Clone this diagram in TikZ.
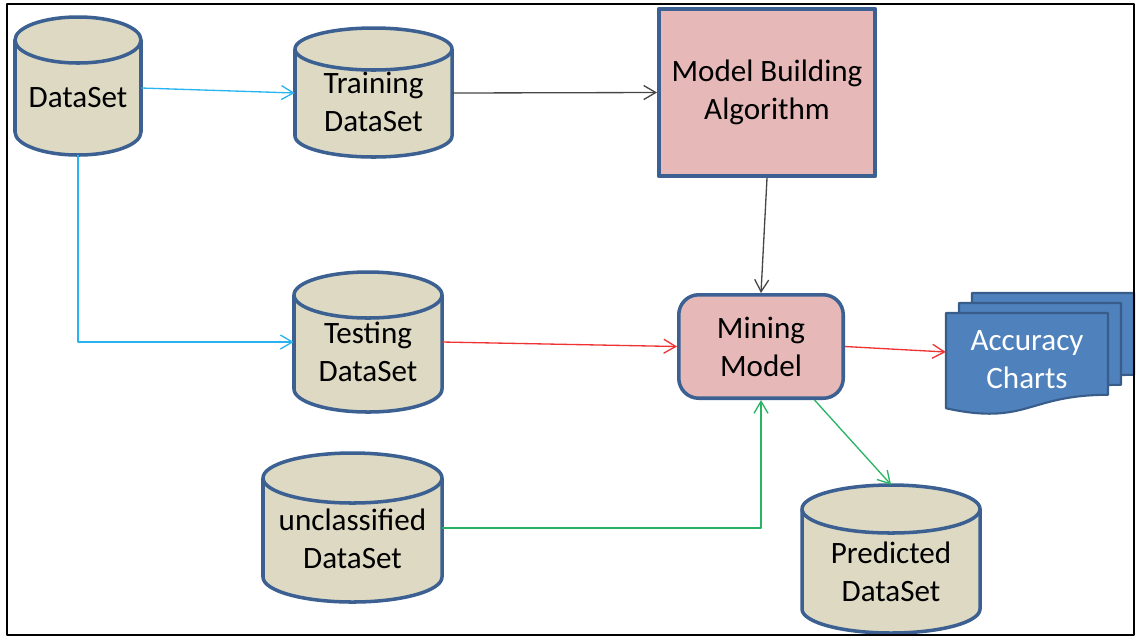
\documentclass[tikz,border=0pt]{standalone}
\usepackage{fontspec}
\setmainfont{Carlito}
\usetikzlibrary{arrows.meta}
\definecolor{dbfill}{RGB}{221,217,195}
\definecolor{edgeblue}{RGB}{59,96,145}
\definecolor{boxpink}{RGB}{230,185,184}
\definecolor{docblue}{RGB}{79,129,189}
\definecolor{docedge}{RGB}{56,93,138}
\definecolor{arrcyan}{RGB}{40,180,240}
\definecolor{arrred}{RGB}{240,50,50}
\definecolor{arrgreen}{RGB}{40,180,100}
\definecolor{arrgray}{RGB}{70,70,70}
\tikzset{
  dbbody/.style={fill=dbfill,draw=edgeblue,line width=2pt},
  dblabel/.style={inner sep=0pt,align=center,font=\fontsize{17.7}{21.6}\selectfont},
  algobox/.style={draw=edgeblue,line width=2pt,fill=boxpink,align=center,
    font=\fontsize{17.7}{21.6}\selectfont},
  docsheet/.style={draw=docedge,line width=1.2pt,fill=docblue},
  flow/.style={-{Straight Barb[length=2.4mm,width=2.8mm]},line width=0.75pt},
}
\begin{document}
\begin{tikzpicture}[x=0.02cm,y=-0.02cm,line join=round]
	\useasboundingbox (0,0) rectangle (1138,637);
	% cylinders
	\foreach \nm/\cx/\ty/\by/\rx/\ry/\ly/\mh/\txt in {
		data/78/17/155/63/23/98/114/{DataSet},
		train/373.5/28/157/78.5/21/102/0/{Training\\DataSet},
		test/368/272/412/74/23/352/0/{Testing\\DataSet},
		uncl/352.5/453/602/89.5/25/538.5/0/{unclassified\\DataSet},
		pred/891/485/633/89/24/572/174/{Predicted\\DataSet}}{
		\begin{scope}
			% than tru
			\filldraw[dbbody] (\cx-\rx,\ty+\ry) -- (\cx-\rx,\by-\ry)
			arc[start angle=180,end angle=0,x radius=\rx,y radius=\ry]
			-- (\cx+\rx,\ty+\ry)
			arc[start angle=0,end angle=-180,x radius=\rx,y radius=\ry] -- cycle;
			% nap tren
			\draw[dbbody,fill=none] (\cx-\rx,\ty+\ry)
			arc[start angle=180,end angle=0,x radius=\rx,y radius=\ry];
			\node[dblabel,minimum width=2*\rx*0.2mm,minimum height=\mh*0.2mm] (\nm) at (\cx,\ly) {\txt};
		\end{scope}
	}
	% hop
	\node[algobox,minimum width=4.33cm,minimum height=3.35cm] (mb) at (767,92.5) {Model Building\\Algorithm};
	\node[algobox,rounded corners=0.4cm,minimum width=3.29cm,minimum height=2.07cm] (mm) at (761,346.5) {Mining\\Model};
	% bieu do
	\foreach \dx/\dy in {26/-20,13/-10,0/0}{
		\begin{scope}[shift={(\dx,\dy)}]
			\filldraw[docsheet] (946,313) -- (1108,313) -- (1108,394.8)
			.. controls (1027,394.8) and (1027,425.9) .. (946,408.3) -- cycle;
		\end{scope}
	}
	\node[dblabel,text=white,minimum width=3.24cm] (acc) at (1027,360) {Accuracy\\Charts};
	% mui ten
	\draw[flow,arrcyan] ([yshift=0.2cm]data.east) -- ([yshift=0.18cm]train.west);
	\draw[flow,arrcyan] (data.south) |- ([yshift=0.2cm]test.west);
	\draw[flow,arrgray] ([yshift=0.18cm]train.east) -- (mb.west);
	\draw[flow,arrgray] (mb.south) -- (mm.north);
	\draw[flow,arrred] ([yshift=0.2cm]test.east) -- (mm.west);
	\draw[flow,arrred] (mm.east) -- ([yshift=0.16cm]acc.west);
	\draw[flow,arrgreen] ([yshift=0.21cm]uncl.east) -| (mm.south);
	\draw[flow,arrgreen] (mm.-45) -- (pred.north);
	% khung
	\draw[line width=1.2pt] (7,4) rectangle (1134,635);
\end{tikzpicture}
\end{document}
